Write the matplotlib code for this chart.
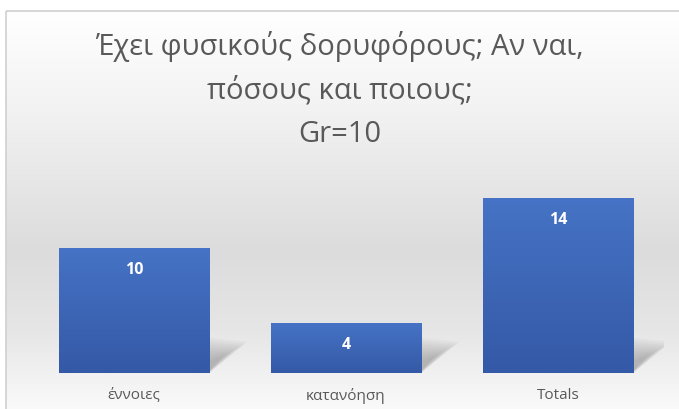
import numpy as np
import matplotlib.pyplot as plt
from matplotlib.patches import Rectangle, Polygon
from matplotlib.colors import LinearSegmentedColormap

categories = ['έννοιες', 'κατανόηση', 'Totals']
values = [10, 4, 14]
title = 'Έχει φυσικούς δορυφόρους; Αν ναι,\nπόσους και ποιους;\nGr=10'

W, H = 679, 410
fig = plt.figure(figsize=(W / 100, H / 100), dpi=100)
fig.patch.set_facecolor('white')

# chart area background: vertical grey gradient with a thin border
bg = fig.add_axes([0, 0, 1, 1])
bg.set_xlim(0, W)
bg.set_ylim(H, 0)
bg.axis('off')
bg_cmap = LinearSegmentedColormap.from_list(
    'bg', [(0.0, '#ffffff'), (0.25, '#f2f2f2'), (0.6, '#dcdcdc'),
           (0.8, '#e6e6e6'), (1.0, '#fafafa')])
grad = np.linspace(0, 1, 256).reshape(-1, 1)
bg.imshow(grad, cmap=bg_cmap, extent=[6, W + 2, H + 2, 12], aspect='auto',
          zorder=0)
bg.add_patch(Rectangle((6, 12), W, H, fill=False, edgecolor='#d0d0d0',
                       lw=1.2, zorder=1))

fig.text(0.5, 1 - 90 / H, title, ha='center', va='center', fontsize=21,
         family='Open Sans', color='#595959', linespacing=1.62,
         multialignment='center')

ax = fig.add_axes([28 / W, 36 / H, 636 / W, 200 / H])
ax.patch.set_alpha(0)
for s in ax.spines.values():
    s.set_visible(False)
ax.set_yticks([])
ax.set_xticks(range(len(categories)))
ax.set_xticklabels(categories, family='Open Sans', fontsize=11,
                   color='#595959')
ax.tick_params(axis='x', length=0, pad=10)

bar_cmap = LinearSegmentedColormap.from_list('bar', ['#4673c5', '#3459a6'])
bars = ax.bar(range(len(values)), values, width=0.71, color='none',
              zorder=3)
for i, (b, v) in enumerate(zip(bars, values)):
    x0, w, h = b.get_x(), b.get_width(), b.get_height()
    xr = x0 + w
    # soft shadow trailing off the lower right corner, built from
    # stacked translucent wedges so the edges fade out
    for k in range(10):
        s = 1 - k / 10
        ax.add_patch(Polygon([(xr, 0.2 * (1 - s)),
                              (xr, 0.8 + 2.0 * s),
                              (xr + 0.05 + 0.13 * s, 1.2 + 1.3 * s)],
                             closed=True, facecolor='#555555', alpha=0.045,
                             edgecolor='none', zorder=2))
    im = ax.imshow(np.linspace(0, 1, 100).reshape(-1, 1), cmap=bar_cmap,
                   extent=[x0, xr, 0, h], aspect='auto', zorder=3)
    im.set_clip_path(b)
    ax.text(i, v - 1.65, str(v), ha='center', va='center', color='white',
            fontsize=11.5, fontweight='bold', family='Open Sans', zorder=4)

ax.set_xlim(-0.5, 2.5)
ax.set_ylim(0, 16)
fig.savefig('out.png', dpi=100)
